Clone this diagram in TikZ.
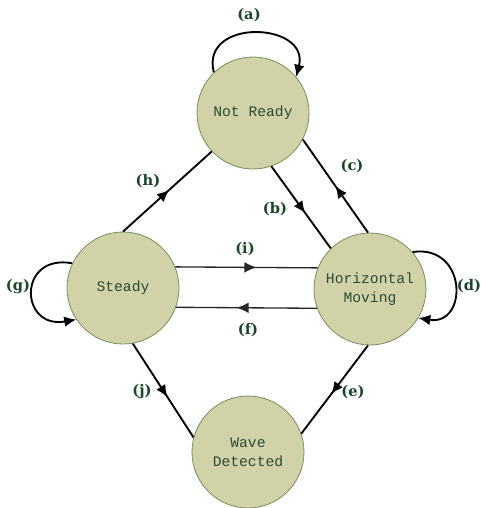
\documentclass[tikz,border=0pt]{standalone}
\usepackage{fontspec}
\setmonofont{Liberation Mono}
\newfontfamily\labfont{DejaVu Serif}
\usetikzlibrary{arrows.meta,decorations.markings}
\definecolor{statefill}{RGB}{210,210,168}
\definecolor{stateedge}{RGB}{120,140,95}
\definecolor{txtgreen}{RGB}{40,75,50}
\definecolor{labgreen}{RGB}{25,70,40}
\begin{document}
\begin{tikzpicture}[x=0.75pt,y=-0.75pt,
  state/.style={circle,draw=stateedge,line width=0.6pt,fill=statefill,minimum size=84pt,inner sep=0pt,align=center,font=\ttfamily\fontsize{11}{14}\selectfont,text=txtgreen},
  lab/.style={font=\labfont\bfseries\fontsize{11}{13}\selectfont,text=labgreen,inner sep=0pt},
  edge/.style={line width=1.4pt,black},
  thinedge/.style={line width=1pt,black!85},
  tipstyle/.style={-{Latex[length=9pt,width=8pt]}},
  midarrow/.style={postaction={decorate},decoration={markings,mark=at position #1 with {\arrow{Latex[length=9pt,width=8pt]}}}}
]
\useasboundingbox (0,0) rectangle (481,508);
\node[state] (NR) at (253,113) {Not Ready};
\node[state] (S) at (123,288) {Steady};
\node[state] (HM) at (370,289) {Horizontal\\Moving};
\node[state] (WD) at (248,452) {Wave\\Detected};

\draw[edge,midarrow=0.52] (S.90) -- (NR.223);
\draw[edge,midarrow=0.57] (NR.289) -- (HM.134);
\draw[edge,midarrow=0.5] (HM.92) -- (NR.332);
\draw[thinedge,midarrow=0.57] (S.22) -- (HM.158);
\draw[thinedge,midarrow=0.57] (HM.200) -- (S.340);
\draw[edge,midarrow=0.55] (HM.268) -- (WD.19);
\draw[edge,midarrow=0.57] (S.280) -- (WD.165);

\draw[edge,tipstyle] (NR.134) .. controls +(-14,-55) and +(14,-55) .. (NR.40);
\draw[edge,tipstyle] (S.154) .. controls +(-55,-10) and +(-57,10) .. (S.214);
\draw[edge,tipstyle] (HM.41) .. controls +(55,-8) and +(50,8) .. (HM.329);

\node[lab] (la) at (249,15) {(a)};
\node[lab] (lb) at (275,209) {(b)};
\node[lab] (lc) at (352,166) {(c)};
\node[lab] (ld) at (469,286) {(d)};
\node[lab] (le) at (353,392) {(e)};
\node[lab] (lf) at (248,330) {(f)};
\node[lab] (lg) at (18,287) {(g)};
\node[lab] (lh) at (148,181) {(h)};
\node[lab] (li) at (245,249) {(i)};
\node[lab] (lj) at (142,392) {(j)};
\end{tikzpicture}
\end{document}
